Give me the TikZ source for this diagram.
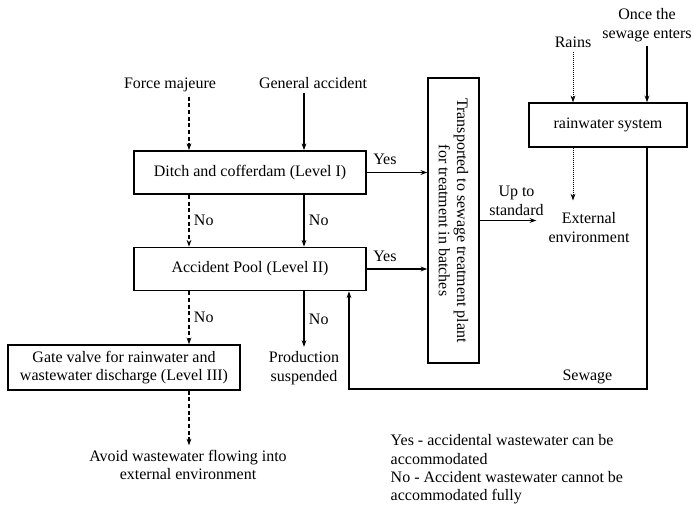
\documentclass[tikz,border=0pt]{standalone}
\usepackage{fontspec}
\setmainfont{Liberation Serif}
\usetikzlibrary{positioning,arrows.meta}

\begin{document}
\begin{tikzpicture}[
  x=0.75pt,y=-0.75pt,
  font=\fontsize{12}{13.8}\selectfont,
  >={Stealth[length=5pt,width=3.6pt]},
  box/.style={draw,line width=1.1pt,minimum width=174pt,minimum height=32.5pt,align=center},
  lbl/.style={align=center},
  flow/.style={->,line width=0.8pt},
  fm/.style={->,line width=0.8pt,dash pattern=on 3pt off 2pt},
  rain/.style={->,line width=0.5pt,densely dotted}
]
\useasboundingbox (0,0) rectangle (694,505);

% where things come from
\node[lbl] (force) at (170,85) {Force majeure};
\node[lbl] (general) at (313,83) {General accident};
\node[lbl] (rains) at (573,42) {Rains};
\node[lbl] (once) at (647,25) {Once the\\sewage enters};
\coordinate (lcol) at (189,0);
\coordinate (rcol) at (304,0);

% three levels of containment
\node[box] (ditch) at (250,172.5) {Ditch and cofferdam (Level I)};
\node[box] (pool) at (250,269) {Accident Pool (Level II)};
\node[box,minimum height=33.75pt] (gate) at (124,367.5) {Gate valve for rainwater and\\wastewater discharge (Level III)};
\node[lbl] (prod) at (304,368) {Production\\suspended};
\node[lbl] (avoid) at (188,465) {Avoid wastewater flowing into\\external environment};

% treatment plant and rainwater side
\node[box,rotate=-90,minimum width=213.75pt,minimum height=38.25pt] (plant) at (453.5,220.5)
 {Transported to sewage treatment plant\\for treatment in batches};
\node[box,minimum width=118.5pt,minimum height=33pt] (rainsys) at (608,125) {rainwater system};
\node[lbl,inner sep=9pt] (ext) at (589,227.5) {External\\environment};
\coordinate (back) at (349,389);

\node[anchor=west,align=left] (legend) at (386,469.5)
 {Yes - accidental wastewater can be\\accommodated\\No - Accident wastewater cannot be\\accommodated fully};

% arrows
\draw[fm] (force.south -| lcol) -- (ditch.north -| lcol);
\draw[flow] (general.south -| rcol) -- (ditch.north -| rcol);
\draw[fm] (ditch.south -| lcol) -- node[right]{No} (pool.north -| lcol);
\draw[flow] (ditch.south -| rcol) -- node[right]{No} (pool.north -| rcol);
\draw[fm] (pool.south -| lcol) -- node[right]{No} (gate.north -| lcol);
\draw[flow] (pool.south -| rcol) -- node[right]{No} (prod.north -| rcol);
\draw[fm] (gate.south -| lcol) -- (avoid.north -| lcol);

\draw[flow] (ditch.east) -- node[above=2pt,pos=0.3]{Yes} (ditch.east -| plant.south);
\draw[flow] (pool.east) -- node[above=2pt,pos=0.3]{Yes} (pool.east -| plant.south);
\draw[flow] (plant.north) -- node[lbl,above,pos=0.65]{Up to\\standard} (plant.north -| ext.west);

\draw[rain] (rains.south) -- (rains.south |- rainsys.north);
\draw[flow] (once.south) -- (once.south |- rainsys.north);
\draw[rain] (rainsys.south -| rains.south) -- (ext.north -| rains.south);
\draw[flow] (rainsys.south -| once.south) |- node[above,pos=0.6]{Sewage} (back) -- (back |- pool.south);
\end{tikzpicture}
\end{document}
